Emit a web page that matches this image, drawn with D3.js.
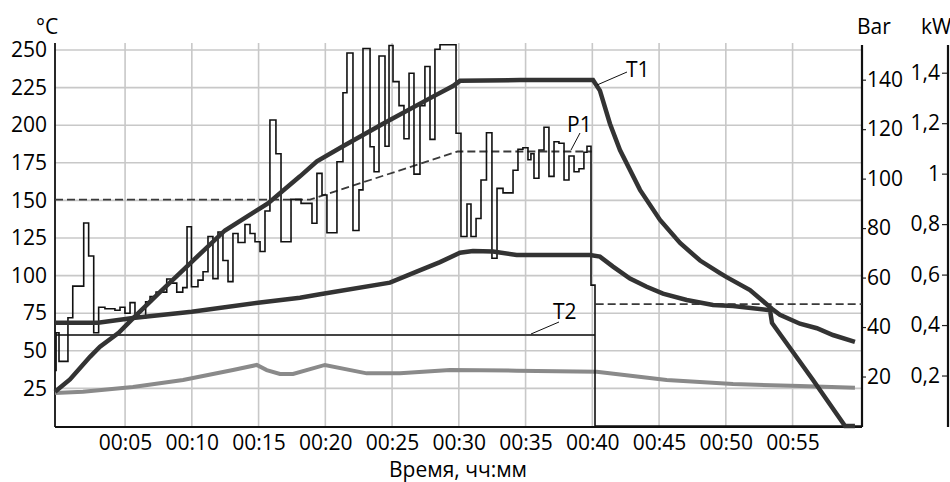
<!DOCTYPE html>
<html><head><meta charset="utf-8">
<script src="https://cdn.jsdelivr.net/npm/d3@7"></script>
<style>
body{margin:0;background:#fff;}
text{font-family:"Open Sans",sans-serif;fill:#000;}
</style>
</head><body>
<svg id="c" width="950" height="482"></svg>
<script>
// ---- data (time in minutes, values in °C-scale units of the left axis) ----
const xTickVals = [5,10,15,20,25,30,35,40,45,50,55];
const xTickLabels = ["00:05","00:10","00:15","00:20","00:25","00:30","00:35","00:40","00:45","00:50","00:55"];
const yTickVals = [25,50,75,100,125,150,175,200,225,250];
const barTickVals = [20,40,60,80,100,120,140];
const kwTickVals = [0.2,0.4,0.6,0.8,1.0,1.2,1.4];
const kwTickLabels = ["0,2","0,4","0,6","0,8","1","1,2","1,4"];

const T1 = [[-0.25,22.8],[0.87,31],[2.37,46],[3.12,52.7],[4.52,62],[5.59,71.6],[7.61,89],[10.09,110],[12.48,130],[15.70,148],[18.10,166],[19.37,176],[21.32,186],[24.32,201],[28.06,219],[29.56,226],[30.09,229.5],[34.58,230],[40.05,230],[40.57,223],[41.32,201],[42.07,183.5],[43.57,157],[45.07,137],[46.57,121.7],[48.07,110],[49.56,101.7],[50.06,99],[51.81,90.4],[53.45,78],[54.05,74],[55.55,68],[56.82,65],[58.02,60.5],[59.67,56]];

const PRESS = [[-0.25,68.7],[2.97,68.7],[5.59,71.8],[9.99,76],[14.96,82],[18.10,85.3],[19.60,87.6],[24.84,95.3],[26.84,102.6],[28.59,109],[30.09,115.2],[31.06,116.4],[32.56,116],[34.33,113.7],[39.83,113.7],[40.57,112.6],[41.55,106],[42.82,98],[44.07,92.6],[45.29,88],[47.07,83.8],[49.04,80.5],[50.54,79.8],[53.31,77],[53.46,68.5],[56.53,30.6],[58.93,0],[59.67,0]];

const P1 = [[-0.25,37],[-0.17,62],[0.05,43],[0.72,72],[1.08,93],[1.90,135],[2.27,113],[2.65,62],[3.02,79],[3.49,78],[4.24,77],[4.62,79],[4.99,75],[5.37,82],[5.74,72],[6.54,82.6],[6.87,86],[7.32,89],[8.12,97.7],[8.42,95],[8.87,89],[9.32,92],[9.64,132.5],[9.97,92.6],[10.46,97],[10.84,102.6],[11.21,126],[11.58,98],[11.96,129],[12.33,110],[12.71,96],[13.08,128],[13.46,122],[13.98,134],[14.36,128],[14.73,122.5],[15.11,116],[15.48,143],[15.85,203.5],[16.30,181],[16.68,122.5],[17.43,150.7],[18.18,148],[19.00,134.8],[19.37,168],[19.75,153.6],[20.12,128.5],[20.87,175.7],[21.32,221.6],[21.62,248],[22.07,130],[22.52,157],[22.82,251],[23.35,185.7],[23.65,169],[24.02,246],[24.47,186],[24.77,253],[25.07,229],[25.52,213],[25.89,191],[26.27,234.5],[26.64,167.5],[27.09,213],[27.46,239],[27.84,190.6],[28.21,250.5],[28.59,253.5],[29.79,194.6],[30.16,126],[30.61,147.6],[30.91,126],[31.29,138],[31.66,163.6],[32.07,195],[32.48,111.5],[32.86,158],[33.31,155],[34.06,170],[34.43,184],[34.80,185],[35.18,177],[35.40,181],[35.63,164.7],[36.00,183.5],[36.38,198.6],[36.75,166],[37.13,189],[37.50,188],[37.88,163.6],[38.25,179.5],[38.63,169],[39.00,171],[39.37,182],[39.60,186],[39.90,93.7],[40.20,0],[60.20,0]];

const T2 = [[-0.25,60.5],[40.2,60.5]];

const T3 = [[-0.25,22],[1.85,22.8],[5.59,26],[9.34,30.6],[13.08,37.2],[14.86,40.6],[15.61,37.2],[16.60,34.6],[17.58,34.6],[19.97,40.6],[23.10,35],[25.59,35],[29.34,37.2],[34.33,36.8],[40.33,36.1],[45.57,30.6],[50.54,27.9],[55.56,26.6],[59.67,25.5]];

const SET1 = [[-0.25,150.5],[18.85,150.5],[29.9,182.5],[39.95,182.5]];
const SET2 = [[40.25,81],[60.2,81]];

// ---- drawing ----
const svg = d3.select("#c");
const x = d3.scaleLinear().domain([-0.25,60.2]).range([55,862]);
const y = d3.scaleLinear().domain([0,250]).range([426,50]);
const yBar = d3.scaleLinear().domain([0,152]).range([426,50]);
const yKw = d3.scaleLinear().domain([0,1.49]).range([426,50]);
const plotTop = 43, plotBottom = 427;

// grid
const grid = svg.append("g").attr("stroke","#c8c8c8").attr("stroke-width",1.6);
grid.selectAll("line.h").data(yTickVals).join("line")
  .attr("x1",x(-0.25)).attr("x2",x(60.2)).attr("y1",d=>y(d)).attr("y2",d=>y(d));
grid.selectAll("line.v").data(xTickVals).join("line")
  .attr("y1",plotTop).attr("y2",plotBottom).attr("x1",d=>x(d)).attr("x2",d=>x(d));

// axes labels
const fs = 21;
const gL = svg.append("g").attr("transform","translate(55,0)")
  .call(d3.axisLeft(y).tickValues(yTickVals).tickSize(0).tickPadding(8));
gL.select(".domain").remove();
gL.selectAll("text").style("font-size",fs+"px").style("font-family","Open Sans").attr("fill","#000");

const gB = svg.append("g").attr("transform","translate(0,"+plotBottom+")")
  .call(d3.axisBottom(x).tickValues(xTickVals).tickSize(0).tickPadding(8).tickFormat((d,i)=>xTickLabels[i]));
gB.select(".domain").remove();
gB.selectAll("text").style("font-size",fs+"px").style("font-family","Open Sans").attr("fill","#000");

const gR = svg.append("g").attr("transform","translate(862,0)")
  .call(d3.axisRight(yBar).tickValues(barTickVals).tickSize(4).tickPadding(1));
gR.select(".domain").remove();
gR.selectAll("line").attr("stroke","#222").attr("stroke-width",1.2);
gR.selectAll("text").style("font-size",fs+"px").style("font-family","Open Sans").attr("fill","#000");

const gK = svg.append("g").attr("transform","translate(948,0)")
  .call(d3.axisLeft(yKw).tickValues(kwTickVals).tickSize(6).tickPadding(2).tickFormat((d,i)=>kwTickLabels[i]));
gK.select(".domain").remove();
gK.selectAll("line").attr("stroke","#222").attr("stroke-width",1.2);
gK.selectAll("text").style("font-size",fs+"px").style("font-family","Open Sans").attr("fill","#000");

// axis lines
const ax = svg.append("g").attr("stroke","#111").attr("stroke-width",1.8);
ax.append("line").attr("x1",55).attr("x2",55).attr("y1",plotTop).attr("y2",plotBottom);
ax.append("line").attr("x1",55).attr("x2",862).attr("y1",plotBottom).attr("y2",plotBottom);
ax.append("line").attr("x1",862).attr("x2",862).attr("y1",45).attr("y2",plotBottom).attr("stroke-width",2.2);
ax.append("line").attr("x1",948).attr("x2",948).attr("y1",45).attr("y2",plotBottom).attr("stroke-width",2.2);

// units
svg.append("text").attr("x",36).attr("y",34).style("font-size",fs+"px").text("°C");
svg.append("text").attr("x",857).attr("y",34).style("font-size",fs+"px").text("Bar");
svg.append("text").attr("x",921).attr("y",34).style("font-size",fs+"px").text("kW");
svg.append("text").attr("x",458).attr("y",477).attr("text-anchor","middle").style("font-size",fs+"px").text("Время, чч:мм");

// series
const line = d3.line().x(d=>x(d[0])).y(d=>y(d[1]));
const step = d3.line().x(d=>x(d[0])).y(d=>y(d[1])).curve(d3.curveStepAfter);

svg.append("path").datum(T3).attr("d",line).attr("fill","none").attr("stroke","#8a8a8a").attr("stroke-width",4);
svg.append("path").datum(T2).attr("d",line).attr("fill","none").attr("stroke","#444").attr("stroke-width",2);
svg.append("path").datum(SET1).attr("d",line).attr("fill","none").attr("stroke","#3a3a3a").attr("stroke-width",1.8).attr("stroke-dasharray","8,4");
svg.append("path").datum(SET2).attr("d",line).attr("fill","none").attr("stroke","#3a3a3a").attr("stroke-width",1.8).attr("stroke-dasharray","8,4");
svg.append("path").datum(P1).attr("d",step).attr("fill","none").attr("stroke","#111").attr("stroke-width",1.6);
svg.append("path").datum(PRESS).attr("d",line).attr("fill","none").attr("stroke","#333").attr("stroke-width",4.5);
svg.append("path").datum(T1).attr("d",line).attr("fill","none").attr("stroke","#333").attr("stroke-width",4.5);

// annotations
const ann = svg.append("g").attr("stroke","#111").attr("stroke-width",1);
ann.append("line").attr("x1",597).attr("y1",85).attr("x2",627).attr("y2",72);
ann.append("line").attr("x1",571).attr("y1",150).attr("x2",580).attr("y2",133);
ann.append("line").attr("x1",531).attr("y1",334).attr("x2",559).attr("y2",322);
svg.append("text").attr("x",626).attr("y",77).style("font-size",fs+"px").text("T1");
svg.append("text").attr("x",567).attr("y",132).style("font-size",fs+"px").text("P1");
svg.append("text").attr("x",553).attr("y",319).style("font-size",fs+"px").text("T2");
</script>
</body></html>
